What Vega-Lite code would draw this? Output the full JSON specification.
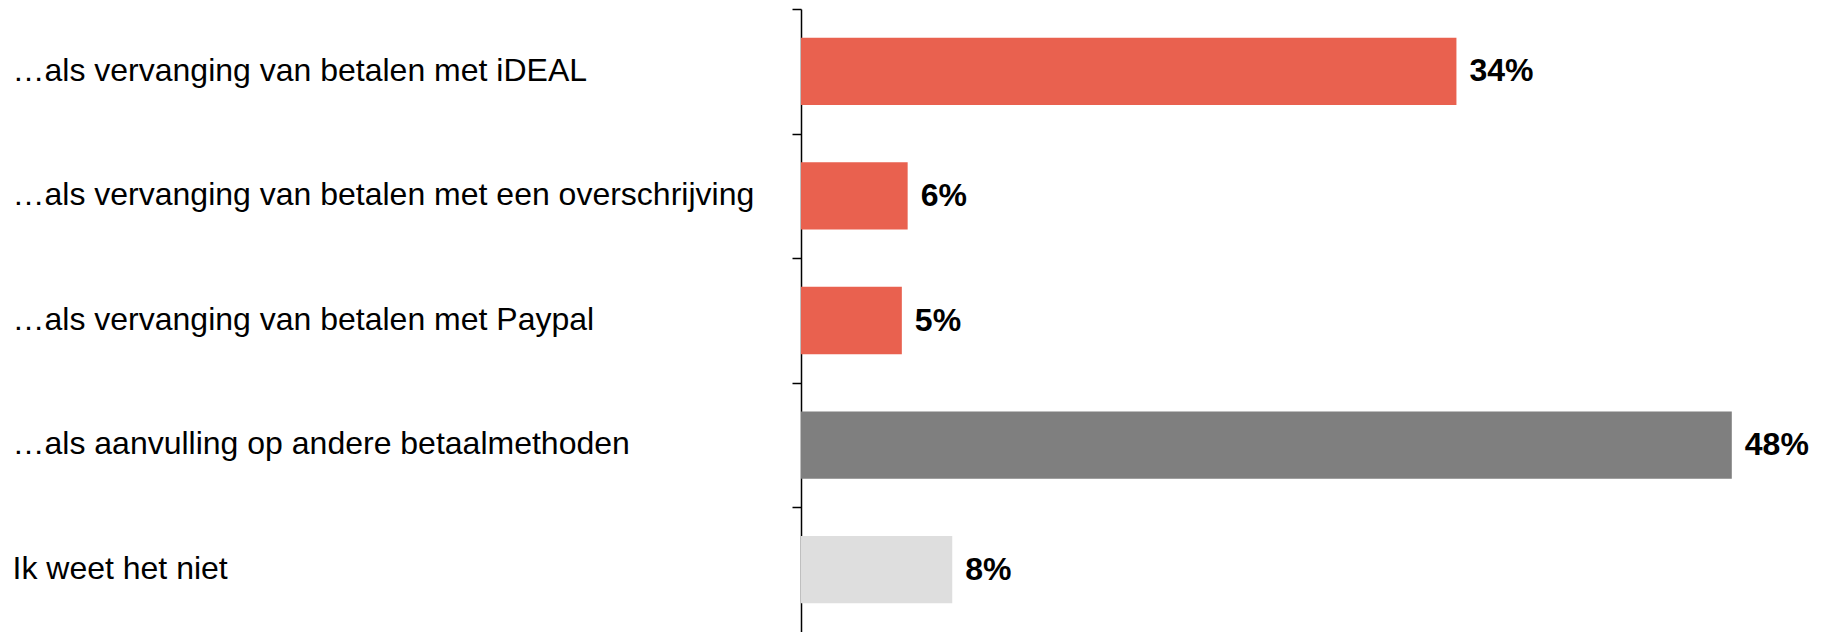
{
  "$schema": "https://vega.github.io/schema/vega-lite/v6.json",
  "autosize": {"type": "none"},
  "width": 1020,
  "height": 623,
  "padding": {"left": 801, "top": 9, "right": 0, "bottom": 0},
  "background": "white",
  "config": {"view": {"stroke": null}, "font": "Liberation Sans"},
  "data": {"values": [
    {"label": "…als vervanging van betalen met iDEAL", "value": 33.8, "text": "34%", "color": "#E9614F"},
    {"label": "…als vervanging van betalen met een overschrijving", "value": 5.5, "text": "6%", "color": "#E9614F"},
    {"label": "…als vervanging van betalen met Paypal", "value": 5.2, "text": "5%", "color": "#E9614F"},
    {"label": "…als aanvulling op andere betaalmethoden", "value": 48, "text": "48%", "color": "#7F7F7F"},
    {"label": "Ik weet het niet", "value": 7.8, "text": "8%", "color": "#DEDEDE"}
  ]},
  "encoding": {
    "y": {"field": "label", "type": "nominal", "sort": null,
      "scale": {"paddingInner": 0.46, "paddingOuter": 0.23},
      "axis": {"title": null, "domainColor": "black", "domainWidth": 1.5, "tickColor": "black", "tickWidth": 1.5, "tickSize": 9,
        "tickOffset": -62.3, "labelOffset": 61, "labelAlign": "left", "labelPadding": 780, "labelLimit": 1000,
        "labelFontSize": 32, "labelColor": "black", "labelFont": "Liberation Sans"}},
    "x": {"field": "value", "type": "quantitative", "scale": {"domain": [0, 52.6]}, "axis": null}
  },
  "layer": [
    {"mark": {"type": "bar"}, "encoding": {"color": {"field": "color", "type": "nominal", "scale": null}}},
    {"mark": {"type": "text", "align": "left", "baseline": "middle", "dx": 13, "fontSize": 32, "fontWeight": "bold", "color": "black", "font": "Liberation Sans"},
     "encoding": {"text": {"field": "text"}}}
  ]
}
